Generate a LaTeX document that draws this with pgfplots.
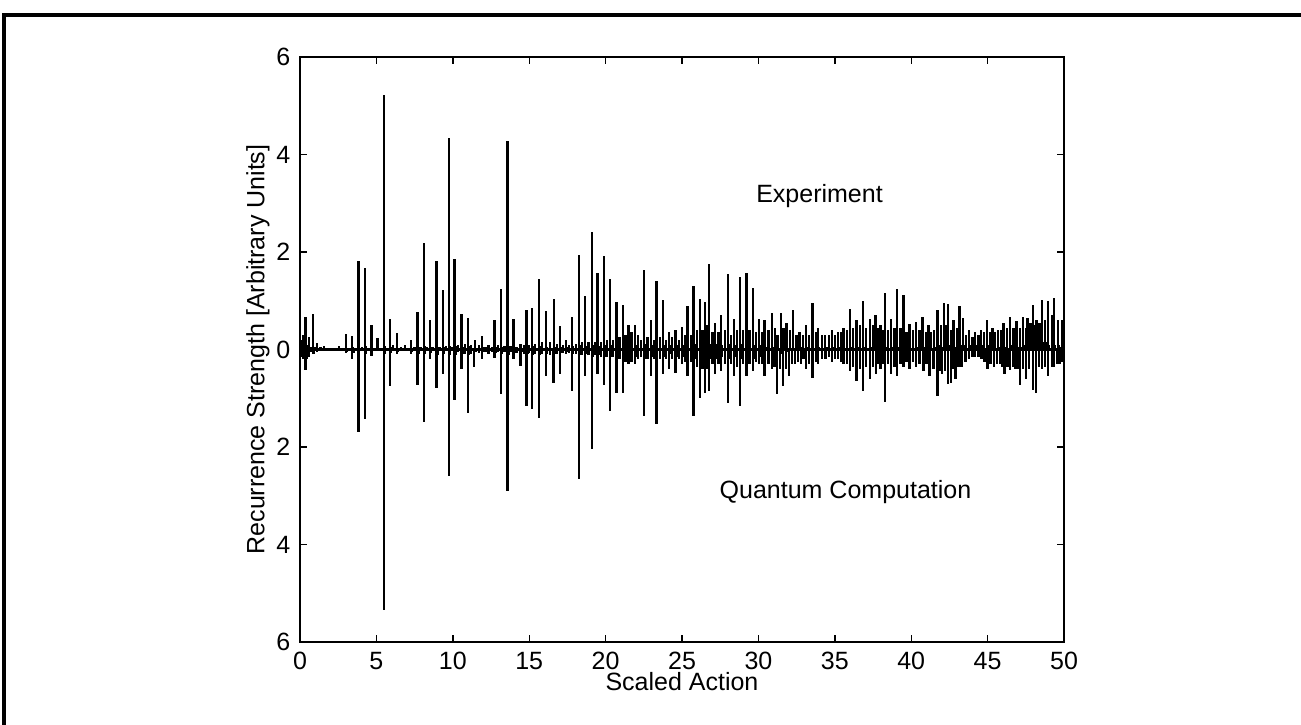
\documentclass[border=0pt]{standalone}
\usepackage{pgfplots}
\pgfplotsset{compat=1.18}
\usepackage{fontspec}
\setmainfont{Liberation Sans}
\begin{document}
\begin{tikzpicture}
\useasboundingbox (0pt,0pt) rectangle (468.36pt,-261pt);
\draw[line width=1.1pt] (1.44pt,-270pt) -- (1.44pt,-5.4pt) -- (475pt,-5.4pt);
\coordinate (ll) at (108pt,-231.12pt);
\begin{axis}[
  at={(ll)}, anchor=south west,
  scale only axis, width=275.04pt, height=210.6pt,
  xmin=0, xmax=50, ymin=-6, ymax=6,
  xtick={0,5,...,50}, ytick={-6,-4,...,6}, yticklabels={6,4,2,0,2,4,6},
  tick align=inside, major tick length=2.5pt,
  font=\fontsize{9}{10}\selectfont,
  /pgf/number format/assume math mode=true,
  xlabel={Scaled Action}, ylabel={Recurrence Strength [Arbitrary Units]},
  xlabel style={at={(axis description cs:0.5,-0.067)}, anchor=center},
  ylabel style={at={(axis description cs:-0.055,0.5)}, anchor=center},
  axis line style={line width=0.6pt},
  every tick/.style={black, line width=0.5pt},
  clip=true,
]
\addplot[black, line width=1.2pt] coordinates {(0,0) (50,0)};
\addplot[black, line width=0.85pt, ycomb] table {
x y
0 0
0.05 0.2
0.1 -0.15
0.2 0.3
0.27 -0.1
0.37 0.67
0.43 -0.2
0.5 0.1
0.6 0.25
0.7 -0.05
0.85 0.73
0.92 -0.1
1.0 0.05
1.1 0.14
1.17 -0.03
1.35 0.06
1.45 0
1.57 0.08
1.65 0
1.8 0.03
2.0 0
2.2 0.03
2.4 0
2.57 0.07
2.65 -0.02
2.8 0.02
2.99 0.32
3.06 -0.05
3.2 0.03
3.42 0.27
3.5 -0.08
3.65 0.03
3.82 1.81
3.88 -0.1
4.05 0.05
4.25 1.68
4.31 -0.1
4.45 0.04
4.67 0.51
4.73 -0.05
4.88 0.03
5.08 0.23
5.15 -0.03
5.3 0.02
5.5 5.22
5.56 -0.1
5.7 0.04
5.89 0.63
5.95 -0.08
6.1 0.1
6.33 0.33
6.4 -0.05
6.6 0.05
6.87 0.1
6.95 -0.03
7.05 0.04
7.26 0.2
7.33 -0.05
7.5 0.05
7.7 0.77
7.76 -0.1
7.9 0.06
8.12 2.19
8.18 -0.1
8.3 0.05
8.51 0.6
8.57 -0.08
8.72 0.06
8.94 1.81
9.0 -0.12
9.15 0.05
9.34 1.21
9.4 -0.1
9.55 0.08
9.75 4.33
9.81 -0.12
9.95 0.05
10.12 1.86
10.18 -0.12
10.35 0.1
10.58 0.72
10.64 -0.1
10.8 0.12
11.0 0.65
11.06 -0.12
11.2 0.1
11.45 0.2
11.52 -0.05
11.7 0.1
11.93 0.28
12.0 -0.05
12.15 0.05
12.33 0.1
12.4 -0.03
12.55 0.06
12.74 0.6
12.8 -0.08
12.95 0.1
13.16 1.25
13.22 -0.1
13.38 0.08
13.59 4.28
13.65 -0.12
13.8 0.08
13.98 0.62
14.04 -0.08
14.2 0.06
14.42 0.12
14.5 -0.05
14.65 0.1
14.83 0.81
14.89 -0.1
15.0 0.1
15.2 0.85
15.26 -0.12
15.4 0.12
15.62 1.44
15.68 -0.12
15.85 0.15
16.08 0.79
16.14 -0.1
16.35 0.15
16.62 1.03
16.68 -0.1
16.8 0.12
17.0 0.49
17.06 -0.08
17.2 0.1
17.4 0.2
17.47 -0.05
17.6 0.1
17.82 0.66
17.88 -0.1
18.05 0.12
18.26 1.93
18.32 -0.12
18.45 0.15
18.65 1.09
18.71 -0.1
18.88 0.15
19.09 2.41
19.15 -0.15
19.3 0.15
19.48 1.56
19.54 -0.12
19.7 0.15
19.9 1.92
19.96 -0.15
20.1 0.2
20.27 1.45
20.33 -0.15
20.5 0.2
20.72 0.97
20.78 -0.15
20.92 0.25
21.12 0.92
21.18 -0.2
21.3 0.3
21.49 0.5
21.56 -0.15
21.7 0.35
21.92 0.5
21.98 -0.15
22.1 0.3
22.3 0.2
22.53 1.63
22.59 -0.2
22.75 0.25
22.95 0.6
23.01 -0.15
23.15 0.2
23.32 1.4
23.38 -0.2
23.55 0.25
23.74 1.01
23.8 -0.15
23.95 0.2
24.15 0.35
24.22 -0.1
24.35 0.25
24.57 0.4
24.63 -0.15
24.8 0.2
24.98 0.47
25.04 -0.15
25.18 0.3
25.35 0.9
25.41 -0.2
25.57 0.3
25.76 1.31
25.82 -0.2
26.0 0.4
26.18 1.03
26.24 -0.15
26.35 0.4
26.5 0.97
26.56 -0.2
26.65 0.5
26.77 1.76
26.83 -0.2
27.0 0.35
27.16 0.55
27.22 -0.2
27.38 0.35
27.57 0.7
27.63 -0.15
27.8 0.4
27.99 1.54
28.05 -0.2
28.2 0.3
28.4 0.63
28.46 -0.15
28.6 0.4
28.8 1.49
28.86 -0.2
29.0 0.4
29.21 1.57
29.27 -0.2
29.42 0.4
29.63 1.27
29.69 -0.2
29.85 0.35
30.04 0.63
30.1 -0.15
30.25 0.35
30.39 0.6
30.45 -0.1
30.65 0.4
30.87 0.74
30.93 -0.1
31.1 0.45
31.25 0.3
31.46 0.74
31.52 -0.1
31.65 0.45
31.85 0.55
31.91 -0.05
32.05 0.4
32.26 0.81
32.32 0
32.5 0.3
32.7 0.35
32.76 0
32.9 0.3
33.1 0.5
33.16 0
33.3 0.3
33.53 0.96
33.59 0
33.75 0.35
33.92 0.45
33.98 0.05
34.15 0.3
34.35 0.3
34.41 0.05
34.6 0.3
34.8 0.4
34.86 0.05
35.0 0.3
35.2 0.35
35.26 0.05
35.4 0.35
35.56 0.45
35.62 0.05
35.8 0.4
36.0 0.83
36.06 0.05
36.2 0.45
36.43 0.6
36.49 0
36.65 0.5
36.83 0.99
36.89 0.05
37.05 0.45
37.3 0.62
37.36 0.05
37.5 0.5
37.67 0.7
37.73 0.05
37.85 0.45
38.0 0.5
38.06 0.05
38.15 0.4
38.29 1.16
38.35 0.05
38.5 0.4
38.66 0.62
38.72 0.05
38.9 0.45
39.07 1.25
39.13 0.05
39.3 0.45
39.49 1.11
39.55 0.05
39.7 0.35
39.88 0.52
39.94 0.05
40.1 0.4
40.31 0.56
40.37 0.05
40.55 0.4
40.73 0.67
40.79 0.05
40.95 0.35
41.12 0.5
41.18 0.05
41.3 0.35
41.5 0.4
41.56 0.05
41.73 0.81
41.79 0.1
41.95 0.5
42.15 0.96
42.21 0.15
42.3 0.5
42.39 0.93
42.45 0.1
42.6 0.4
42.76 0.6
42.82 0.1
43.0 0.45
43.17 0.89
43.23 0.1
43.41 0.65
43.47 0.1
43.6 0.3
43.8 0.4
43.86 0.1
44.0 0.25
44.18 0.35
44.24 0.1
44.4 0.3
44.55 0.4
44.61 0.1
44.75 0.35
44.94 0.6
45.0 0.1
45.15 0.35
45.31 0.45
45.37 0.05
45.5 0.35
45.7 0.4
45.76 0.05
45.9 0.4
46.03 0.55
46.09 0.1
46.25 0.45
46.47 0.67
46.53 0.1
46.7 0.45
46.9 0.58
46.96 0.05
47.1 0.45
47.3 0.67
47.36 0.1
47.5 0.45
47.62 0.65
47.68 0.1
47.8 0.55
47.95 0.92
48.01 0.1
48.1 0.5
48.2 0.6
48.3 0.15
48.4 0.55
48.54 1.01
48.6 0.15
48.75 0.6
48.81 0.15
48.97 0.99
49.03 0.1
49.2 0.7
49.26 0.15
49.36 1.05
49.42 0.1
49.6 0.6
49.66 0.1
49.85 0.6
49.92 0.15
50 0.3
};
\addplot[black, line width=0.85pt, ycomb] table {
x y
0 0
0.1 0.1
0.2 -0.2
0.3 0.1
0.37 -0.43
0.45 0.1
0.6 -0.15
0.7 0.05
0.85 -0.1
0.95 0.05
1.1 -0.05
1.2 0.02
1.5 -0.01
2.0 0.01
2.5 -0.01
3.0 -0.08
3.06 0.03
3.2 -0.02
3.42 -0.2
3.48 0.05
3.65 -0.02
3.82 -1.7
3.88 0.08
4.05 -0.03
4.25 -1.42
4.31 0.08
4.45 -0.02
4.67 -0.13
4.73 0.03
5.1 -0.03
5.3 0.02
5.5 -5.35
5.56 0.08
5.7 -0.02
5.89 -0.74
5.95 0.06
6.1 -0.03
6.33 -0.1
6.4 0.03
6.8 -0.02
7.26 -0.1
7.32 0.03
7.5 -0.02
7.7 -0.72
7.76 0.06
7.9 -0.03
8.12 -1.48
8.18 0.08
8.3 -0.03
8.51 -0.2
8.57 0.05
8.72 -0.03
8.94 -0.78
9.0 0.06
9.15 -0.03
9.34 -0.51
9.4 0.06
9.55 -0.03
9.75 -2.6
9.81 0.08
9.95 -0.03
10.12 -1.03
10.18 0.08
10.35 -0.05
10.58 -0.41
10.64 0.06
10.8 -0.1
11.0 -1.3
11.06 0.08
11.2 -0.1
11.4 -0.35
11.46 0.05
11.7 -0.08
11.93 -0.2
12.0 0.05
12.15 -0.05
12.33 -0.1
12.4 0.03
12.55 -0.05
12.74 -0.17
12.8 0.05
12.95 -0.05
13.16 -0.92
13.22 0.06
13.38 -0.05
13.59 -2.9
13.65 0.08
13.8 -0.05
13.98 -0.2
14.04 0.05
14.2 -0.08
14.42 -0.34
14.48 0.05
14.65 -0.1
14.83 -1.15
14.89 0.08
15.0 -0.08
15.2 -1.22
15.26 0.08
15.4 -0.1
15.62 -1.4
15.68 0.08
15.85 -0.1
16.08 -0.55
16.14 0.06
16.35 -0.12
16.6 -0.68
16.66 0.06
16.8 -0.1
17.0 -0.5
17.06 0.05
17.2 -0.08
17.4 -0.1
17.46 0.05
17.6 -0.08
17.82 -0.86
17.88 0.08
18.05 -0.1
18.26 -2.65
18.32 0.1
18.45 -0.12
18.65 -0.55
18.71 0.08
18.88 -0.12
19.09 -2.05
19.15 0.1
19.3 -0.12
19.48 -0.5
19.54 0.08
19.7 -0.15
19.9 -0.72
19.96 0.1
20.1 -0.15
20.27 -1.27
20.33 0.1
20.5 -0.15
20.72 -0.89
20.78 0.1
20.92 -0.2
21.12 -0.9
21.18 0.12
21.3 -0.25
21.49 -0.3
21.56 0.1
21.7 -0.25
21.92 -0.3
21.98 0.1
22.1 -0.2
22.3 -0.15
22.53 -1.36
22.59 0.12
22.75 -0.2
22.95 -0.55
23.01 0.1
23.15 -0.2
23.32 -1.52
23.38 0.12
23.55 -0.2
23.74 -0.5
23.8 0.1
23.95 -0.2
24.15 -0.4
24.22 0.1
24.35 -0.2
24.57 -0.48
24.63 0.1
24.8 -0.2
24.98 -0.3
25.04 0.1
25.18 -0.25
25.35 -0.55
25.41 0.12
25.57 -0.25
25.76 -1.37
25.82 0.12
26.0 -0.35
26.18 -0.99
26.24 0.12
26.35 -0.4
26.5 -0.9
26.56 0.12
26.65 -0.4
26.77 -0.85
26.83 0.12
27.0 -0.3
27.16 -0.5
27.22 0.12
27.38 -0.3
27.57 -0.45
27.63 0.1
27.8 -0.3
27.99 -1.1
28.05 0.12
28.2 -0.3
28.4 -0.55
28.46 0.1
28.6 -0.35
28.8 -1.16
28.86 0.12
29.0 -0.3
29.21 -0.55
29.27 0.1
29.42 -0.3
29.63 -0.45
29.69 0.1
29.85 -0.25
30.04 -0.3
30.1 0.1
30.25 -0.3
30.41 -0.55
30.47 0.05
30.65 -0.3
30.87 -0.4
30.93 0.05
31.05 -0.35
31.2 -0.92
31.26 0.05
31.4 -0.4
31.6 -0.75
31.66 0.05
31.8 -0.4
32.0 -0.55
32.06 0.05
32.2 -0.3
32.4 -0.3
32.46 0.05
32.6 -0.25
32.8 -0.3
32.86 0.05
32.95 -0.2
33.1 -0.4
33.16 0.05
33.3 -0.3
33.53 -0.58
33.59 0.05
33.75 -0.25
33.9 -0.3
33.96 0.05
34.15 -0.2
34.4 -0.2
34.46 0.05
34.6 -0.15
34.8 -0.25
34.86 0.05
35.0 -0.2
35.2 -0.2
35.26 0.05
35.4 -0.25
35.56 -0.3
35.62 0.05
35.8 -0.3
36.0 -0.45
36.06 0.05
36.2 -0.35
36.43 -0.65
36.49 0.05
36.65 -0.4
36.83 -0.85
36.89 0.05
37.05 -0.35
37.3 -0.6
37.36 0.05
37.5 -0.35
37.7 -0.5
37.76 0.05
37.85 -0.3
38.0 -0.4
38.06 0.05
38.15 -0.3
38.29 -1.08
38.35 0.05
38.5 -0.3
38.66 -0.5
38.72 0.05
38.9 -0.35
39.07 -0.55
39.13 0.05
39.3 -0.3
39.49 -0.35
39.55 0.05
39.7 -0.25
39.88 -0.4
39.94 0.05
40.1 -0.25
40.31 -0.35
40.37 0.05
40.55 -0.3
40.8 -0.45
40.86 0.05
41.0 -0.3
41.2 -0.55
41.26 0.05
41.45 -0.4
41.73 -0.96
41.79 0.05
41.9 -0.45
42.0 -0.5
42.06 0.05
42.2 -0.45
42.39 -0.7
42.45 0.05
42.6 -0.68
42.66 0.05
42.75 -0.4
42.9 -0.6
42.96 0.05
43.1 -0.35
43.3 -0.35
43.36 0.05
43.55 -0.25
43.8 -0.2
43.86 0.05
44.0 -0.15
44.18 -0.15
44.24 0.05
44.4 -0.15
44.6 -0.2
44.66 0.05
44.8 -0.25
45.0 -0.4
45.06 0.05
45.2 -0.3
45.4 -0.35
45.46 0.05
45.6 -0.3
45.8 -0.3
45.86 0.05
45.95 -0.35
46.1 -0.5
46.16 0.05
46.3 -0.35
46.47 -0.42
46.53 0.05
46.65 -0.35
46.8 -0.4
46.86 0.05
46.95 -0.4
47.1 -0.72
47.16 0.05
47.3 -0.4
47.5 -0.6
47.56 0.05
47.7 -0.4
47.95 -0.84
48.01 0.05
48.15 -0.89
48.21 0.05
48.35 -0.35
48.54 -0.4
48.6 0.05
48.75 -0.35
48.97 -0.55
49.03 0.05
49.2 -0.35
49.36 -0.35
49.42 0.05
49.55 -0.3
49.7 -0.3
49.76 0.05
49.9 -0.25
50 -0.1
};
\node at (axis cs:34.0,3.14) {Experiment};
\node at (axis cs:35.7,-2.92) {Quantum Computation};
\end{axis}
\end{tikzpicture}
\end{document}
